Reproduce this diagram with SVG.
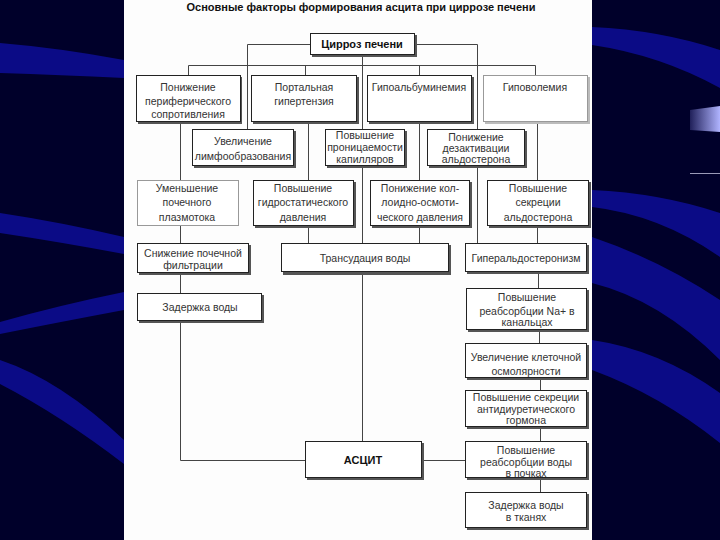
<svg xmlns="http://www.w3.org/2000/svg" width="720" height="540" viewBox="0 0 720 540">
<style>
.bx{fill:#fff;stroke:#222;stroke-width:1}
.lt{fill:#fff;stroke:#999;stroke-width:1}
.sh{fill:#555}
.shl{fill:#bbb}
.t{font-family:"Liberation Sans",Arial,sans-serif;font-size:10.5px;fill:#333;text-anchor:middle}
.b{font-family:"Liberation Sans",Arial,sans-serif;font-size:11px;font-weight:bold;fill:#111;text-anchor:middle}
.c{fill:none;stroke:#444;stroke-width:1}
.wave{fill:#0b0b86}
</style>
<defs>
<linearGradient id="gl" x1="0" y1="0" x2="1" y2="0">
<stop offset="0" stop-color="#20205a"/>
<stop offset="1" stop-color="#b0b4ff"/>
</linearGradient>
</defs>
<rect x="0" y="0" width="720" height="540" fill="#00002a"/>
<g id="bg-waves">
<path class="wave" d="M0 43 Q60 48 124 60 L124 78 Q60 75 0 73 Z"/>
<path class="wave" d="M0 213 Q60 222 124 237 L124 254 Q60 242 0 233 Z"/>
<path class="wave" d="M0 322 Q60 305 124 292 L124 310 Q60 322 0 334 Z"/>
<path class="wave" d="M0 360 Q60 380 124 440 L124 464 Q60 415 0 384 Z"/>
<path class="wave" d="M592 27 Q660 30 720 50 L720 88 Q660 55 592 45 Z"/>
<path class="wave" d="M592 190 Q660 193 720 213 L720 257 Q660 215 592 207 Z"/>
<path class="wave" d="M592 237 Q660 260 720 300 L720 360 Q660 300 592 283 Z"/>
<path class="wave" d="M592 340 Q660 350 720 393 L720 443 Q660 395 592 370 Z"/>
<path d="M690 110 L720 106 L720 132 L690 130 Z" fill="url(#gl)"/>
<line x1="690" y1="173.5" x2="720" y2="173.5" stroke="#9a9ab8" stroke-width="1"/>
</g>
<rect x="124" y="0" width="468" height="540" fill="#fdfdfd"/>
<text class="b" x="361" y="11">Основные факторы формирования асцита при циррозе печени</text>

<g id="connectors">
<path class="c" d="M247.5 129 V44.5 H310 M415 44.5 H477.5 V129"/>
<path class="c" d="M362.5 55 V129 M362.5 166 V243 M362.5 272 V441"/>
<path class="c" d="M188.5 75 V65.5 H535.5 V75 M305.5 65.5 V75 M419.5 65.5 V75"/>
<path class="c" d="M180.5 122 V180 M308.5 122 V180 M419.5 122 V180 M537.5 122 V180"/>
<path class="c" d="M477.5 166 V243"/>
<path class="c" d="M180.5 225 V243 M308.5 225 V243 M419.5 225 V243 M537.5 225 V243"/>
<path class="c" d="M180.5 273 V293 M180.5 321 V460.5 H305"/>
<path class="c" d="M422 460.5 H465"/>
<path class="c" d="M538.5 272 V288 M539.5 330 V343 M540.5 378 V390 M540.5 427 V441 M540.5 478 V492"/>
</g>

<g id="n-cirrhosis"><rect class="sh" x="312" y="35" width="105" height="22"/><rect class="bx" x="310.5" y="33.5" width="104" height="21"/><text class="b" x="362" y="48">Цирроз печени</text></g>

<g id="n-periph"><rect class="sh" x="138" y="77" width="104" height="47"/><rect class="bx" x="136.5" y="75.5" width="104" height="46"/><text class="t" x="188" y="91">Понижение</text><text class="t" x="188" y="104.5">периферического</text><text class="t" x="188" y="118">сопротивления</text></g>
<g id="n-portal"><rect class="sh" x="253" y="77" width="106" height="47"/><rect class="bx" x="251.5" y="75.5" width="105" height="46"/><text class="t" x="304" y="91">Портальная</text><text class="t" x="304" y="104.5">гипертензия</text></g>
<g id="n-hypoalb"><rect class="sh" x="369" y="77" width="105" height="47"/><rect class="bx" x="367.5" y="75.5" width="104" height="46"/><text class="t" x="419" y="91">Гипоальбуминемия</text></g>
<g id="n-hypovol"><rect class="shl" x="485" y="77" width="105" height="47"/><rect class="lt" x="483.5" y="75.5" width="104" height="46"/><text class="t" x="535" y="91">Гиповолемия</text></g>

<g id="n-lymph"><rect class="sh" x="194" y="131" width="102" height="37"/><rect class="bx" x="192.5" y="129.5" width="101" height="36"/><text class="t" x="243" y="145">Увеличение</text><text class="t" x="243" y="160">лимфообразования</text></g>
<g id="n-permeab"><rect class="sh" x="327" y="131" width="80" height="37"/><rect class="bx" x="325.5" y="129.5" width="79" height="36"/><text class="t" x="365" y="139">Повышение</text><text class="t" x="365" y="151">проницаемости</text><text class="t" x="365" y="163">капилляров</text></g>
<g id="n-deact"><rect class="sh" x="429" y="131" width="98" height="37"/><rect class="bx" x="427.5" y="129.5" width="97" height="36"/><text class="t" x="476" y="141">Понижение</text><text class="t" x="476" y="152">дезактивации</text><text class="t" x="476" y="163">альдостерона</text></g>

<g id="n-plasma"><rect class="lt" x="137.5" y="180.5" width="101" height="45"/><text class="t" x="187" y="192">Уменьшение</text><text class="t" x="187" y="206">почечного</text><text class="t" x="187" y="221">плазмотока</text></g>
<g id="n-hydro"><rect class="sh" x="255" y="182" width="101" height="46"/><rect class="bx" x="253.5" y="180.5" width="100" height="45"/><text class="t" x="303" y="192">Повышение</text><text class="t" x="303" y="206">гидростатического</text><text class="t" x="303" y="221">давления</text></g>
<g id="n-oncotic"><rect class="sh" x="372" y="182" width="100" height="46"/><rect class="bx" x="370.5" y="180.5" width="99" height="45"/><text class="t" x="420" y="192">Понижение кол-</text><text class="t" x="420" y="206">лоидно-осмоти-</text><text class="t" x="420" y="221">ческого давления</text></g>
<g id="n-aldosec"><rect class="sh" x="489" y="182" width="102" height="46"/><rect class="bx" x="487.5" y="180.5" width="101" height="45"/><text class="t" x="538" y="192">Повышение</text><text class="t" x="538" y="206">секреции</text><text class="t" x="538" y="221">альдостерона</text></g>

<g id="n-filtr"><rect class="sh" x="139" y="245" width="112" height="30"/><rect class="bx" x="137.5" y="243.5" width="111" height="29"/><text class="t" x="193" y="257">Снижение почечной</text><text class="t" x="193" y="269">фильтрации</text></g>
<g id="n-transud"><rect class="sh" x="283" y="245" width="168" height="30"/><rect class="bx" x="281.5" y="243.5" width="167" height="28"/><text class="t" x="365" y="262">Трансудация воды</text></g>
<g id="n-hyperald"><rect class="sh" x="467" y="245" width="122" height="29"/><rect class="bx" x="465.5" y="243.5" width="121" height="28"/><text class="t" x="526" y="262">Гиперальдостеронизм</text></g>

<g id="n-retention"><rect class="sh" x="139" y="295" width="125" height="28"/><rect class="bx" x="137.5" y="293.5" width="124" height="27"/><text class="t" x="200" y="311">Задержка воды</text></g>

<g id="n-na"><rect class="sh" x="468" y="290" width="121" height="42"/><rect class="bx" x="466.5" y="288.5" width="120" height="41"/><text class="t" x="527" y="301">Повышение</text><text class="t" x="527" y="315">реабсорбции Na+ в</text><text class="t" x="527" y="326">канальцах</text></g>
<g id="n-osmol"><rect class="sh" x="467" y="345" width="122" height="35"/><rect class="bx" x="465.5" y="343.5" width="121" height="34"/><text class="t" x="526" y="361">Увеличение клеточной</text><text class="t" x="526" y="375">осмолярности</text></g>
<g id="n-adh"><rect class="sh" x="467" y="392" width="122" height="37"/><rect class="bx" x="465.5" y="390.5" width="121" height="36"/><text class="t" x="526" y="401">Повышение секреции</text><text class="t" x="526" y="413">антидиуретического</text><text class="t" x="526" y="424">гормона</text></g>
<g id="n-ascites"><rect class="sh" x="307" y="443" width="117" height="37"/><rect class="bx" x="305.5" y="441.5" width="116" height="36"/><text class="b" x="363" y="464">АСЦИТ</text></g>
<g id="n-reabs"><rect class="sh" x="467" y="443" width="122" height="37"/><rect class="bx" x="465.5" y="441.5" width="121" height="36"/><text class="t" x="526" y="454">Повышение</text><text class="t" x="526" y="466">реабсорбции воды</text><text class="t" x="526" y="477">в почках</text></g>
<g id="n-tissue"><rect class="sh" x="467" y="494" width="122" height="36"/><rect class="bx" x="465.5" y="492.5" width="121" height="35"/><text class="t" x="526" y="509">Задержка воды</text><text class="t" x="526" y="521">в тканях</text></g>
</svg>
